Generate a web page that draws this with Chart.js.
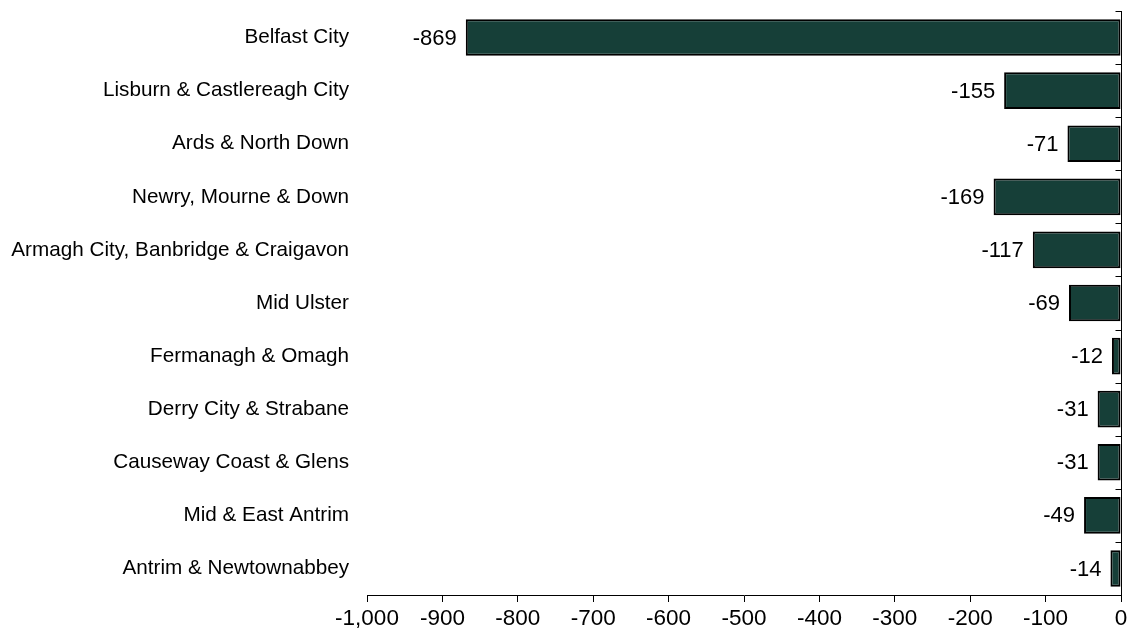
<!DOCTYPE html>
<html>
<head>
<meta charset="utf-8">
<script src="https://cdn.jsdelivr.net/npm/chart.js@4/dist/chart.umd.min.js"></script>
<style>
  html, body { margin: 0; padding: 0; background: #fff; }
  #wrap { width: 1128px; height: 630px; position: relative; }
</style>
</head>
<body>
<div id="wrap"><canvas id="c"></canvas></div>
<script>
const categories = ['Belfast City','Lisburn & Castlereagh City','Ards & North Down','Newry, Mourne & Down','Armagh City, Banbridge & Craigavon','Mid Ulster','Fermanagh & Omagh','Derry City & Strabane','Causeway Coast & Glens','Mid & East Antrim','Antrim & Newtownabbey'];
const values = [-869, -155, -71, -169, -117, -69, -12, -31, -31, -49, -14];
const xMin = -1000, xMax = 0, xStep = 100;

const FONT = "'Liberation Sans', Arial, sans-serif";

const valueLabels = {
  id: 'valueLabels',
  afterDatasetsDraw(chart) {
    const ctx = chart.ctx;
    const meta = chart.getDatasetMeta(0);
    ctx.save();
    ctx.font = '22px ' + FONT;
    ctx.fillStyle = '#000';
    ctx.textAlign = 'right';
    ctx.textBaseline = 'middle';
    meta.data.forEach((bar, i) => {
      const left = Math.min(bar.x, bar.base);
      ctx.fillText(String(values[i]), left - 9, bar.y + 1);
    });
    ctx.restore();
  }
};

const rightAxis = {
  id: 'rightAxis',
  afterDraw(chart) {
    const ctx = chart.ctx;
    const xs = chart.scales.x;
    const ca = chart.chartArea;
    const x0 = Math.round(xs.getPixelForValue(0)) + 0.5;
    const n = categories.length;
    ctx.save();
    ctx.strokeStyle = '#000';
    ctx.lineWidth = 1;
    ctx.beginPath();
    ctx.moveTo(x0, ca.top);
    ctx.lineTo(x0, ca.bottom);
    for (let i = 0; i <= n; i++) {
      const y = Math.round(ca.top + i * (ca.bottom - ca.top) / n) + 0.5;
      ctx.moveTo(x0 - 6, y);
      ctx.lineTo(x0, y);
    }
    ctx.stroke();
    ctx.restore();
  }
};

new Chart(document.getElementById('c'), {
  type: 'bar',
  data: {
    labels: categories,
    datasets: [{
      data: values,
      backgroundColor: '#163f38',
      borderColor: '#000',
      borderWidth: 2,
      borderSkipped: false,
      barPercentage: 0.69,
      categoryPercentage: 1.0
    }]
  },
  options: {
    indexAxis: 'y',
    responsive: true,
    maintainAspectRatio: false,
    animation: false,
    layout: { padding: { top: 11, right: 7, left: 0, bottom: 0 } },
    plugins: { legend: { display: false }, tooltip: { enabled: false } },
    scales: {
      x: {
        position: 'bottom',
        min: xMin, max: xMax,
        ticks: {
          stepSize: xStep,
          color: '#000',
          font: { family: FONT, size: 22.5 },
          padding: 3,
          maxRotation: 0,
          callback: v => Number(v).toLocaleString('en-US')
        },
        grid: { drawOnChartArea: false, drawTicks: true, tickLength: 7, color: '#000' },
        border: { display: true, color: '#000', width: 1 },
        afterFit: s => { s.height = 35; s.paddingLeft = 0; s.paddingRight = 0; }
      },
      y: {
        position: 'left',
        ticks: {
          color: '#000',
          font: { family: FONT, size: 20.7 },
          padding: 18,
          autoSkip: false
        },
        grid: { display: false, drawTicks: false },
        border: { display: false },
        afterFit: s => { s.width = 367; s.paddingTop = 0; s.paddingBottom = 0; }
      }
    }
  },
  plugins: [valueLabels, rightAxis]
});
</script>
</body>
</html>
